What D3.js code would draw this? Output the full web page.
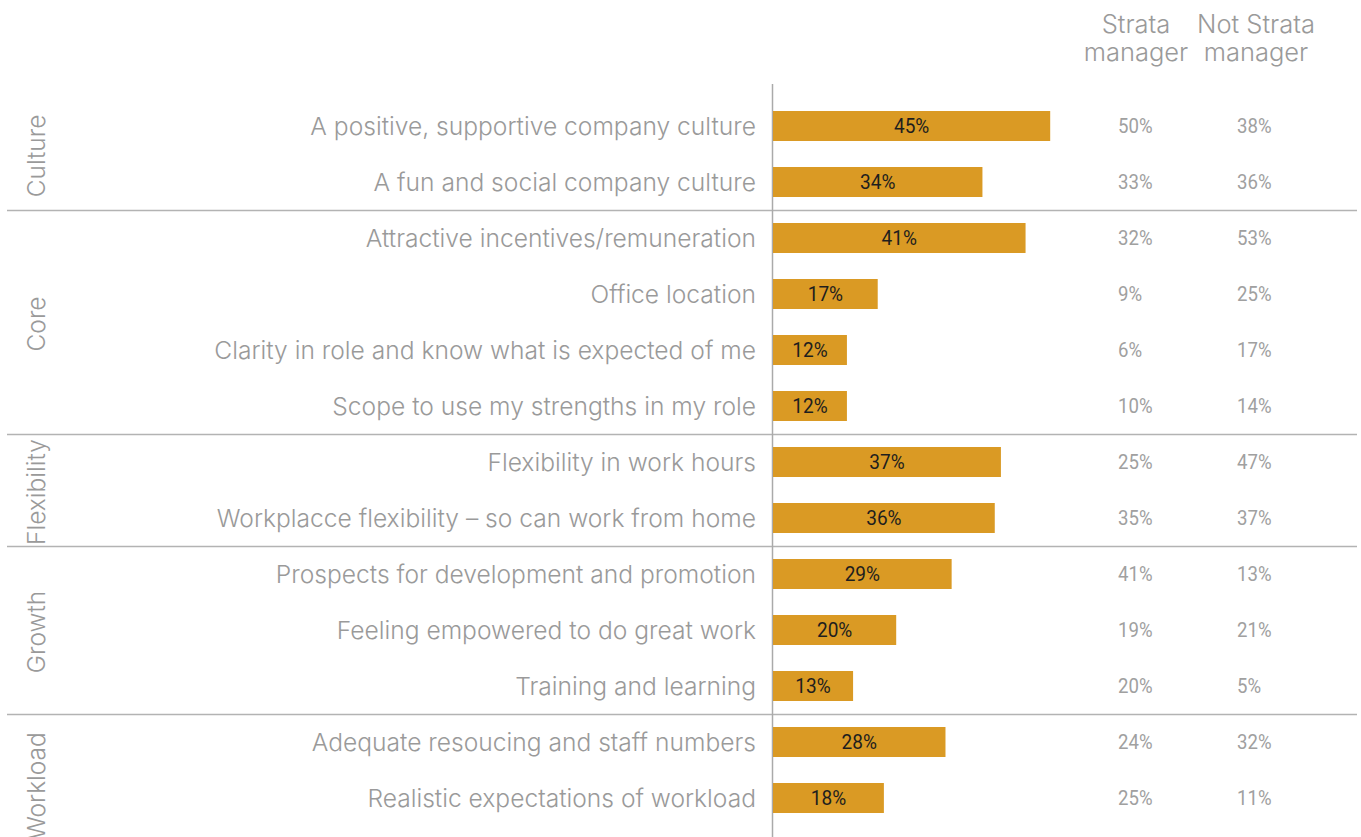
<!DOCTYPE html>
<html>
<head>
<meta charset="utf-8">
<script src="https://cdn.jsdelivr.net/npm/d3@7"></script>
<style>
  html, body { margin: 0; padding: 0; background: #fff; }
  svg { display: block; }
  .lbl { font-family: Inter, "Open Sans", Roboto, sans-serif; font-weight: 300; fill: #9a9a9a; }
  .num { font-family: Roboto, "Liberation Sans", sans-serif; }
</style>
</head>
<body>
<svg id="chart" width="1361" height="837"></svg>
<script>
// Drivers of attraction, grouped by theme
const items = [
  "A positive, supportive company culture",
  "A fun and social company culture",
  "Attractive incentives/remuneration",
  "Office location",
  "Clarity in role and know what is expected of me",
  "Scope to use my strengths in my role",
  "Flexibility in work hours",
  "Workplacce flexibility – so can work from home",
  "Prospects for development and promotion",
  "Feeling empowered to do great work",
  "Training and learning",
  "Adequate resoucing and staff numbers",
  "Realistic expectations of workload"
];
const groups = ["Culture", "Core", "Flexibility", "Growth", "Workload"];
const groupSizes = [2, 4, 2, 3, 2];
const total = [45, 34, 41, 17, 12, 12, 37, 36, 29, 20, 13, 28, 18];
const strata = [50, 33, 32, 9, 6, 10, 25, 35, 41, 19, 20, 24, 25];
const notStrata = [38, 36, 53, 25, 17, 14, 47, 37, 13, 21, 5, 32, 11];
const columnHeaders = [["Strata", "manager"], ["Not Strata", "manager"]];

const svg = d3.select("#chart");

const x = d3.scaleLinear().domain([0, 100]).range([773, 1389]);
const y = d3.scaleBand().domain(d3.range(items.length)).range([98, 826]).paddingInner(0.4643).paddingOuter(0.2321);

// group boundaries
let start = 0;
const groupRows = groupSizes.map((n, i) => {
  const g = { name: groups[i], first: start, last: start + n - 1 };
  start += n;
  return g;
});
const step = y.step();
const rowTop = i => y(i) - (step - y.bandwidth()) / 2;
const rowBottom = i => rowTop(i) + step;
const midY = i => y(i) + y.bandwidth() / 2;
// the last block runs on past the bottom edge of the page
const groupBottom = (g, k) => rowBottom(g.last) + (k === groupRows.length - 1 ? 28 : 0);

// narrow numerals: horizontally compressed text
const SQ = 0.93;
function narrowText(sel, xFn, yFn) {
  sel.attr("transform", (d, i) => `translate(${xFn(d, i)},${yFn(d, i)}) scale(${SQ},1)`);
}

// separators between groups
svg.selectAll("line.sep")
  .data(groupRows.slice(1))
  .join("line")
  .attr("x1", 7).attr("x2", 1357)
  .attr("y1", d => Math.round(rowTop(d.first)) + 0.5)
  .attr("y2", d => Math.round(rowTop(d.first)) + 0.5)
  .attr("stroke", "#b3b3b3").attr("stroke-width", 1.5);

// group labels, rotated
svg.selectAll("text.grp")
  .data(groupRows)
  .join("text")
  .attr("class", "lbl")
  .attr("transform", (d, k) => `translate(45,${(rowTop(d.first) + groupBottom(d, k)) / 2 + 2}) rotate(-90)`)
  .attr("text-anchor", "middle")
  .style("font-size", "24.5px")
  .text(d => d.name);

// vertical axis line
svg.append("line")
  .attr("x1", x(0) - 0.5).attr("x2", x(0) - 0.5)
  .attr("y1", 84).attr("y2", 837)
  .attr("stroke", "#aaaaaa").attr("stroke-width", 1.5);

// row labels
svg.selectAll("text.item")
  .data(items)
  .join("text")
  .attr("class", "lbl")
  .attr("x", 756)
  .attr("y", (d, i) => midY(i))
  .attr("dy", "0.35em")
  .attr("text-anchor", "end")
  .style("font-size", "24.6px")
  .text(d => d);

// bars
svg.selectAll("rect.bar")
  .data(total)
  .join("rect")
  .attr("x", x(0))
  .attr("y", (d, i) => y(i))
  .attr("width", d => x(d) - x(0))
  .attr("height", y.bandwidth())
  .attr("fill", "#da9a24");

svg.selectAll("text.val")
  .data(total)
  .join("text")
  .attr("class", "num")
  .attr("dy", "0.36em")
  .attr("text-anchor", "middle")
  .style("font-size", "20.5px")
  .attr("fill", "#1e1e1e")
  .text(d => d + "%")
  .call(narrowText, d => (x(0) + x(d)) / 2, (d, i) => midY(i));

// comparison columns
const colX = [1118, 1237];
const colCenter = [1136, 1256];
[strata, notStrata].forEach((vals, c) => {
  svg.selectAll(`text.col${c}`)
    .data(vals)
    .join("text")
    .attr("class", "num")
    .attr("dy", "0.36em")
    .style("font-size", "20px")
    .attr("fill", "#a0a0a0")
    .text(d => d + "%")
    .call(narrowText, () => colX[c], (d, i) => midY(i));

  svg.selectAll(`text.head${c}`)
    .data(columnHeaders[c])
    .join("text")
    .attr("class", "lbl")
    .attr("x", colCenter[c])
    .attr("y", (d, i) => 33 + i * 28)
    .attr("text-anchor", "middle")
    .style("font-size", "25.5px")
    .text(d => d);
});
</script>
</body>
</html>
